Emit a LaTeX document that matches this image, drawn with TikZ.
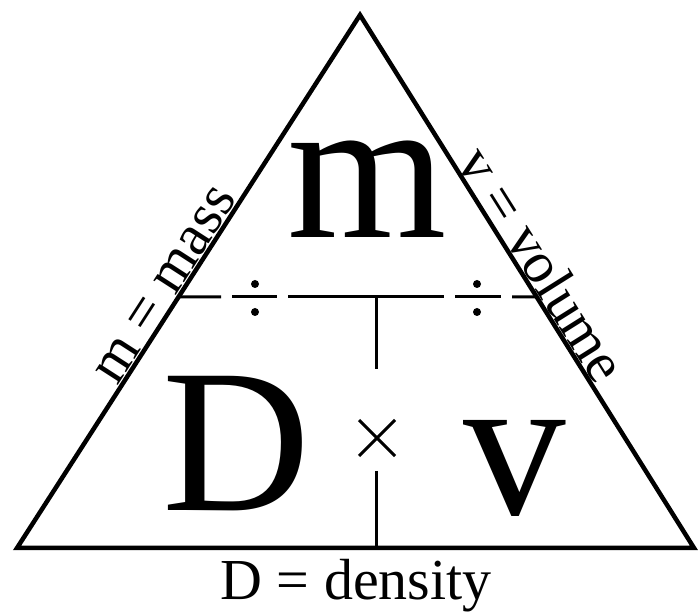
\documentclass[tikz,border=0pt]{standalone}
\usepackage{fontspec}
\setmainfont{Liberation Serif}
\usetikzlibrary{calc}

\begin{document}
\begin{tikzpicture}[x=1pt, y=1pt,
  rim/.style={line width=4.5pt, line join=miter},
  divider/.style={line width=3pt},
  big/.style={font=\fontsize{205}{205}\selectfont, inner sep=0pt, anchor=base},
  tag/.style={font=\fontsize{58}{58}\selectfont, inner sep=0pt, anchor=base}
]
\useasboundingbox (0,0) rectangle (698,612);

\coordinate (top) at (360,597);
\coordinate (bl)  at (17,64);
\coordinate (br)  at (694,64);
\coordinate (hl)  at ($(bl)!0.471!(top)$);
\coordinate (hr)  at ($(br)!0.471!(top)$);
\coordinate (hmid) at (376,315);
\coordinate (bmid) at (376,64);

% triangle
\draw[rim] (bl) -- (top) -- (br) -- cycle;

% broken middle rule with the two division signs
\draw[divider] (hl) -- (221,315);
\draw[divider] (232,315) -- (277,315);
\draw[divider] (288,315) -- (444,315);
\draw[divider] (455,315) -- (501,315);
\draw[divider] (512,315) -- (hr);
\fill (255,328) circle (4) (255,300) circle (4);
\fill (477,328) circle (4) (477,300) circle (4);

% vertical rule and times sign
\draw[divider] (hmid) -- (376,243);
\draw[divider] (376,141) -- (bmid);
\draw[divider] (359,156) -- (395,192);
\draw[divider] (359,192) -- (395,156);

% letters
\node[big] (mass) at (367,374) {m};
\node[big] (dens) at (237,101) {D};
\node[big] (vol)  at (515,97)  {v};

% labels
\node[tag] (dlabel) at (356,12) {D = density};
\node[tag, rotate=57.2]  (mlabel) at ($(bl)!0.476!(top) + (-2.5,1.6)$) {m = mass};
\node[tag, rotate=-57.9] (vlabel) at ($(top)!0.49!(br) + (2.5,1.6)$)   {v = volume};
\end{tikzpicture}
\end{document}
